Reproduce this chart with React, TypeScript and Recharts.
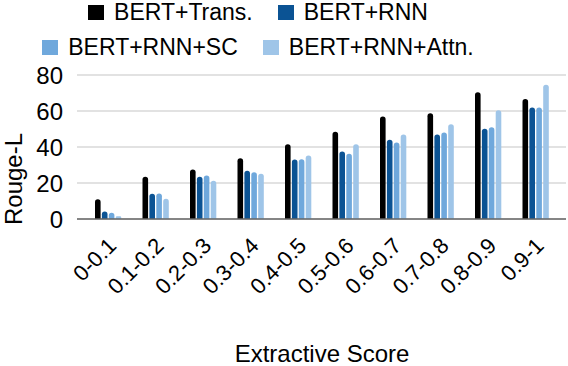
import React from 'react';
import { BarChart, Bar, XAxis, YAxis, CartesianGrid } from 'recharts';

const categories = ['0-0.1', '0.1-0.2', '0.2-0.3', '0.3-0.4', '0.4-0.5', '0.5-0.6', '0.6-0.7', '0.7-0.8', '0.8-0.9', '0.9-1'];
const bertTrans = [11, 23.5, 27.5, 33.7, 41.5, 48.5, 57, 58.7, 70.4, 66.6];
const bertRnn = [4.2, 14, 23.5, 26.8, 33, 37.5, 44, 47, 50.2, 61.9];
const bertRnnSc = [3.5, 14.2, 24.2, 26, 33.2, 36.2, 42.5, 48, 51, 62];
const bertRnnAttn = [1.5, 11.2, 21.2, 25.1, 35.3, 41.5, 47, 52.6, 60.4, 74.6];
const yTicks = [0, 20, 40, 60, 80];

const series = [
  { key: 'trans', name: 'BERT+Trans.', color: '#000000', values: bertTrans },
  { key: 'rnn', name: 'BERT+RNN', color: '#0B5394', values: bertRnn },
  { key: 'sc', name: 'BERT+RNN+SC', color: '#6FA8DC', values: bertRnnSc },
  { key: 'attn', name: 'BERT+RNN+Attn.', color: '#9FC5E8', values: bertRnnAttn },
];

const data = categories.map((cat, i) => {
  const row: Record<string, string | number> = { cat };
  series.forEach((s) => { row[s.key] = s.values[i]; });
  return row;
});

const font = '"Liberation Sans", Arial, sans-serif';

function XTick({ x, y, payload }: { x?: number; y?: number; payload?: { value: string } }) {
  return (
    <g transform={`translate(${(x ?? 0) + 10},${(y ?? 0) + 28})`}>
      <text textAnchor="end" transform="rotate(-45)" fontSize={22} fontFamily={font} fill="#000">
        {payload?.value}
      </text>
    </g>
  );
}

function LegendItem({ name, color }: { name: string; color: string }) {
  return (
    <span style={{ display: 'inline-flex', alignItems: 'center', gap: '10px' }}>
      <span style={{ display: 'inline-block', width: '16px', height: '15px', background: color }} />
      {name}
    </span>
  );
}

export default function App() {
  return (
    <div style={{ position: 'absolute', left: 0, top: 0, width: 568, height: 366, background: '#fff', fontFamily: font, overflow: 'hidden' }}>
      <BarChart
        width={568}
        height={366}
        data={data}
        margin={{ top: 75, right: 2, left: 0, bottom: 0 }}
        barSize={5.6}
        barGap={1.3}
      >
        <CartesianGrid vertical={false} stroke="#D9D9D9" strokeWidth={1.5} />
        <YAxis
          domain={[0, 80]}
          ticks={yTicks}
          width={77}
          axisLine={false}
          tickLine={false}
          tickSize={0}
          tickMargin={14}
          tick={{ fontSize: 24, fill: '#000', fontFamily: font }}
          label={{
            content: () => (
              <text x={22} y={179} textAnchor="middle" transform="rotate(-90, 22, 179)" fontSize={24} fontFamily={font} fill="#000">
                Rouge-L
              </text>
            ),
          }}
        />
        <XAxis
          dataKey="cat"
          height={147}
          padding={{ left: 7, right: 7 }}
          interval={0}
          axisLine={{ stroke: '#666666', strokeWidth: 1.5 }}
          tickLine={false}
          tickSize={0}
          tickMargin={0}
          tick={<XTick />}
          label={{
            content: () => (
              <text x={322} y={362} textAnchor="middle" fontSize={24} fontFamily={font} fill="#000">
                Extractive Score
              </text>
            ),
          }}
        />
        {series.map((s) => (
          <Bar key={s.key} dataKey={s.key} name={s.name} fill={s.color} radius={[3, 3, 0, 0]} isAnimationActive={false} />
        ))}
      </BarChart>

      {/* legend, two centred rows like the original */}
      <div style={{ position: 'absolute', left: 0, top: 0, width: 516, fontSize: 23, color: '#000', lineHeight: '26px' }}>
        <div style={{ display: 'flex', justifyContent: 'center', gap: '25px', marginTop: '-1px' }}>
          <LegendItem name={series[0].name} color={series[0].color} />
          <LegendItem name={series[1].name} color={series[1].color} />
        </div>
        <div style={{ display: 'flex', justifyContent: 'center', gap: '25px', marginTop: '9px' }}>
          <LegendItem name={series[2].name} color={series[2].color} />
          <LegendItem name={series[3].name} color={series[3].color} />
        </div>
      </div>
    </div>
  );
}
